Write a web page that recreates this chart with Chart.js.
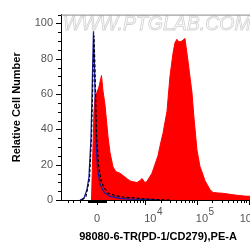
<!DOCTYPE html>
<html>
<head>
<meta charset="utf-8">
<script src="https://cdn.jsdelivr.net/npm/chart.js@4.4.0/dist/chart.umd.min.js"></script>
<style>
  html, body { margin: 0; padding: 0; background: #fff; overflow: hidden; width: 250px; height: 249px; }
  #wrap { width: 258px; height: 249px; }
</style>
</head>
<body>
<div id="wrap"><canvas id="histo" width="258" height="249"></canvas></div>
<script>
// x values are display channels (decades on a biexponential axis, 0 = zero)
var redX = [-0.106, -0.077, -0.058, -0.038, 0, 0.038, 0.087, 0.115, 0.154, 0.212, 0.25, 0.308, 0.365, 0.442,
  0.538, 0.635, 0.705, 0.769, 0.83, 0.865, 0.923, 0.962, 1.058, 1.173, 1.231, 1.269, 1.308, 1.346, 1.404,
  1.462, 1.5, 1.538, 1.577, 1.635, 1.692, 1.75, 1.788, 1.827, 1.865, 1.923, 1.981, 2.019, 2.077, 2.115,
  2.173, 2.231, 2.327, 2.423, 2.558, 2.692, 2.846, 3.04];
var redY = [0, 30, 50, 58, 61, 64, 70.5, 62, 54, 36, 27, 18.8, 16, 15.2,
  13, 10.8, 10.3, 9.9, 11, 12.2, 9.9, 10.5, 15.2, 25, 33, 37.6, 44, 50, 70,
  83, 89, 91, 89.5, 90, 91.5, 79, 70, 61, 47, 28.5, 19, 16, 11, 9,
  6, 4.3, 4, 3.8, 3.2, 2.7, 2.2, 2];

var blueX = [-0.327, -0.25, -0.192, -0.154, -0.115, -0.087, -0.067, -0.048, -0.019, 0.01, 0.058, 0.135,
  0.25, 0.442, 0.635, 0.923, 1.212];
var blueY = [0, 1, 6, 13, 35, 70, 95.5, 75, 35, 18, 9, 4.5, 2, 1, 0.5, 0.3, 0];

var dashX = [-0.288, -0.212, -0.144, -0.106, -0.077, -0.058, -0.038, -0.01, 0.029, 0.077, 0.135, 0.212,
  0.346, 0.538, 0.731, 0.923, 1.115, 1.404];
var dashY = [0, 2, 12, 35, 70, 93, 75, 38, 20, 11, 7, 4, 2.5, 1.5, 1.2, 0.6, 0.3, 0];

var yTickValues = [0, 20, 40, 60, 80, 100];
var yMinorValues = [5, 10, 15, 25, 30, 35, 45, 50, 55, 65, 70, 75, 85, 90, 95, 100, 105];
var xMajorValues = [0, 1e4, 1e5, 1e6];
var xMajorLabels = [["0", ""], ["10", "4"], ["10", "5"], ["10", "6"]];
var xMinorValues = [-4000, -3000, -2000, -1000, -900, -800, -700, -600, -500, -400, -300, -200, -100,
  100, 200, 300, 400, 500, 600, 700, 800, 900, 1000, 2000, 3000, 4000, 5000, 6000, 7000, 8000, 9000,
  2e4, 3e4, 4e4, 5e4, 6e4, 7e4, 8e4, 9e4, 2e5, 3e5, 4e5, 5e5, 6e5, 7e5, 8e5, 9e5];

var xTitle = "98080-6-TR(PD-1/CD279),PE-A";
var yTitle = "Relative Cell Number";
var watermark = "WWW.PTGLAB.COM";

function toChan(v) {
  return Math.asinh(v / 2400) / Math.LN10;
}

function pts(xs, ys) {
  var out = [];
  for (var i = 0; i < xs.length; i++) out.push({ x: xs[i], y: ys[i] });
  return out;
}

var FONT = '"Liberation Sans", Arial, sans-serif';

var axisMarks = {
  id: 'axisMarks',
  beforeDatasetsDraw: function (chart) {
    var ctx = chart.ctx, area = chart.chartArea;
    ctx.save();
    ctx.font = 'italic 19.5px ' + FONT;
    ctx.strokeStyle = '#d2d2d2';
    ctx.lineWidth = 0.8;
    ctx.textBaseline = 'middle';
    ctx.strokeText(watermark, area.left + 2, area.top + 9.5);
    ctx.restore();
  },
  afterDraw: function (chart) {
    var ctx = chart.ctx, area = chart.chartArea;
    var x = chart.scales.x, y = chart.scales.y;
    ctx.save();
    // top frame line
    ctx.strokeStyle = '#888';
    ctx.lineWidth = 1;
    ctx.beginPath();
    ctx.moveTo(area.left, area.top + 0.5);
    ctx.lineTo(chart.width, area.top + 0.5);
    ctx.stroke();

    ctx.strokeStyle = '#000';
    ctx.beginPath();
    function xTick(v, len) {
      var p = x.getPixelForValue(toChan(v));
      if (p < area.left || p > area.right) return;
      p = Math.round(p) + 0.5;
      ctx.moveTo(p, area.bottom);
      ctx.lineTo(p, area.bottom + len);
    }
    function yTick(v, len) {
      var p = y.getPixelForValue(v);
      if (p < area.top) return;
      p = Math.round(p) + 0.5;
      ctx.moveTo(area.left, p);
      ctx.lineTo(area.left - len, p);
    }
    xMinorValues.forEach(function (v) { xTick(v, 3); });
    xMajorValues.forEach(function (v) { xTick(v, 5); });
    yMinorValues.forEach(function (v) { yTick(v, 3); });
    yTickValues.forEach(function (v) { yTick(v, 5); });
    ctx.stroke();

    // x tick labels with superscript exponents
    ctx.fillStyle = '#555';
    ctx.textBaseline = 'alphabetic';
    ctx.textAlign = 'left';
    xMajorValues.forEach(function (v, i) {
      var p = x.getPixelForValue(toChan(v));
      var base = xMajorLabels[i][0], sup = xMajorLabels[i][1];
      ctx.font = '11px ' + FONT;
      var wb = ctx.measureText(base).width;
      ctx.font = '10px ' + FONT;
      var ws = sup ? ctx.measureText(sup).width + 0.5 : 0;
      var start = sup ? p - 1 : p - wb / 2;
      if (start + wb + ws > chart.width) start = chart.width - wb - ws;
      ctx.font = '11px ' + FONT;
      ctx.fillText(base, start, area.bottom + 21.5);
      if (sup) {
        ctx.font = '10px ' + FONT;
        ctx.fillText(sup, start + wb + 0.5, area.bottom + 14.5);
      }
    });
    ctx.restore();
  }
};

new Chart(document.getElementById('histo'), {
  type: 'line',
  data: {
    datasets: [
      {
        data: pts(dashX, dashY),
        borderColor: '#000',
        borderWidth: 1.2,
        borderDash: [3, 2],
        fill: false,
        pointRadius: 0
      },
      {
        data: pts(blueX, blueY),
        borderColor: '#1c1ca0',
        borderWidth: 1.3,
        fill: false,
        pointRadius: 0
      },
      {
        data: pts(redX, redY),
        borderColor: '#ff0000',
        backgroundColor: '#ff0000',
        borderWidth: 1,
        fill: 'origin',
        pointRadius: 0
      }
    ]
  },
  options: {
    responsive: false,
    animation: false,
    devicePixelRatio: 1,
    layout: { padding: { top: 5, right: 3, left: 0, bottom: 0 } },
    plugins: { legend: { display: false }, tooltip: { enabled: false } },
    scales: {
      x: {
        type: 'linear',
        min: -0.692,
        max: 3.04,
        grid: { display: true, drawOnChartArea: false, drawTicks: false },
        border: { display: true, color: '#000', width: 1 },
        ticks: { display: false },
        title: {
          display: true,
          text: xTitle,
          color: '#000',
          font: { family: FONT, size: 11, weight: 'bold' },
          padding: { top: 0, bottom: 5.4 }
        },
        afterFit: function (scale) { scale.height = 49; }
      },
      y: {
        type: 'linear',
        min: 0,
        max: 105,
        grid: { display: true, drawOnChartArea: false, drawTicks: false },
        border: { display: true, color: '#000', width: 1 },
        afterBuildTicks: function (scale) {
          scale.ticks = yTickValues.map(function (v) { return { value: v }; });
        },
        ticks: {
          color: '#555',
          padding: 8,
          font: { family: FONT, size: 11 }
        },
        title: {
          display: true,
          text: yTitle,
          color: '#000',
          font: { family: FONT, size: 11, weight: 'bold' },
          padding: { top: 10, bottom: 0 }
        },
        afterFit: function (scale) { scale.width = 61; }
      }
    }
  },
  plugins: [axisMarks]
});
</script>
</body>
</html>
